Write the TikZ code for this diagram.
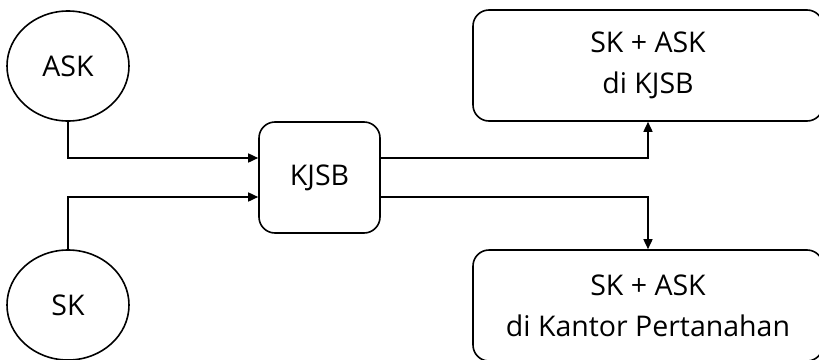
\documentclass[tikz,border=0pt]{standalone}
\usepackage{fontspec}
\setmainfont{Open Sans}
\usetikzlibrary{shapes.geometric,arrows.meta}
\begin{document}
\begin{tikzpicture}[x=1pt,y=-1pt,
  every node/.style={font=\fontsize{28.5}{41}\selectfont, line width=1.6pt, draw, inner sep=0pt, align=center},
  circ/.style={ellipse, minimum width=122pt, minimum height=110pt},
  rbox/.style={rounded corners=16pt, minimum width=121pt, minimum height=111pt},
  wbox/.style={rounded corners=16pt, minimum width=350pt, minimum height=111pt},
  conn/.style={line width=1.6pt, -{Triangle[length=10pt,width=9pt]}}]
\useasboundingbox (0,0) rectangle (819,359);
\node[circ] (ask) at (68,66) {ASK};
\node[circ] (sk) at (68,305) {SK};
\node[rbox] (kjsb) at (319.5,177.5) {KJSB};
\node[wbox] (top) at (648,65.5) {SK + ASK\\di KJSB};
\node[wbox] (bot) at (648,305.5) {SK + ASK\\di Kantor Pertanahan};
\draw[conn] (ask.south) |- ([yshift=19.5pt]kjsb.west);
\draw[conn] (sk.north) |- ([yshift=-19.5pt]kjsb.west);
\draw[conn] ([yshift=19.5pt]kjsb.east) -| (top.south);
\draw[conn] ([yshift=-19.5pt]kjsb.east) -| (bot.north);
\end{tikzpicture}
\end{document}
